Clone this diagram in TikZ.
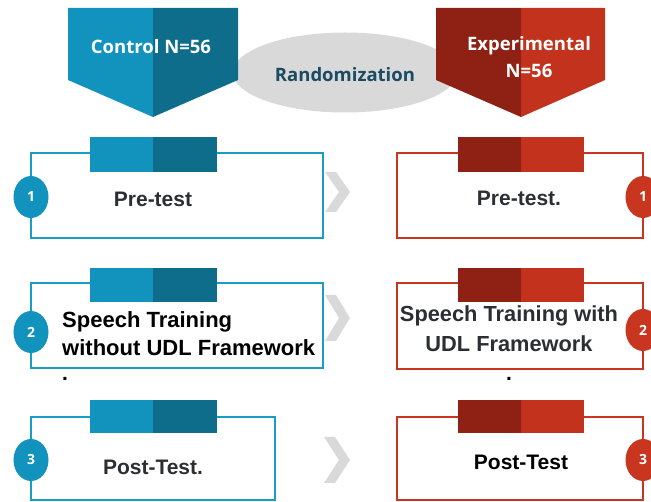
\documentclass[tikz,border=0pt]{standalone}
\usepackage{fontspec}
\setmainfont{Liberation Sans}
\newfontfamily\headfont{Open Sans}
\usetikzlibrary{shapes.geometric}
\definecolor{tealL}{HTML}{1193BE}
\definecolor{tealD}{HTML}{0E6D8B}
\definecolor{tealLine}{HTML}{1A9CC6}
\definecolor{redD}{HTML}{8E2113}
\definecolor{redL}{HTML}{C2321C}
\definecolor{redLine}{HTML}{C8361F}
\definecolor{chev}{HTML}{D9D9D9}
\definecolor{ellgray}{HTML}{D9D9D9}
\definecolor{randtxt}{HTML}{1B4A63}
\definecolor{boxtxt}{HTML}{2B2F33}
\tikzset{
  tealbox/.style={draw=tealLine, line width=2.8pt},
  redbox/.style={draw=redLine, line width=2.8pt},
  numcirc/.style={ellipse, minimum width=35pt, minimum height=42pt, inner sep=0pt, text=white, font=\headfont\bfseries\fontsize{14}{16}\selectfont},
  bodytxt/.style={font=\bfseries\fontsize{21}{27}\selectfont, inner sep=0pt},
  headtxt/.style={font=\headfont\bfseries\fontsize{18.5}{27}\selectfont, text=white, inner sep=0pt, align=center},
  chevshape/.style={fill=chev, draw=none}
}
\begin{document}
\begin{tikzpicture}[x=1pt,y=-1pt]
\useasboundingbox (0,0) rectangle (651,502);
% randomization ellipse
\fill[ellgray] (345,72.5) ellipse [x radius=112, y radius=40];
\node[font=\headfont\bfseries\fontsize{18.5}{22}\selectfont, text=randtxt, inner sep=0pt] (rand) at (345,75) {Randomization};
% control pentagon
\fill[tealL] (68,8) -- (153,8) -- (153,117) -- (68,80) -- cycle;
\fill[tealD] (153,8) -- (238,8) -- (238,80) -- (153,117) -- cycle;
\node[headtxt] (ctrl) at (151,47) {Control N=56};
% experimental pentagon
\fill[redD] (436,8) -- (521,8) -- (521,117) -- (436,80) -- cycle;
\fill[redL] (521,8) -- (605,8) -- (605,80) -- (521,117) -- cycle;
\node[headtxt] (expt) at (529,57) {Experimental\\N=56};

% ---------- Row 1 ----------
\draw[tealbox] (31,153) rectangle (323,238);
\fill[tealL] (90,137) rectangle (153,172);
\fill[tealD] (153,137) rectangle (217,172);
\node[numcirc, fill=tealL] (c1) at (31,197) {1};
\node[bodytxt, text=boxtxt] (t1) at (153,199) {Pre-test};

\draw[redbox] (397,153) rectangle (643,238);
\fill[redD] (458,137) rectangle (521,172);
\fill[redL] (521,137) rectangle (584,172);
\node[numcirc, fill=redLine] (e1) at (643,197) {1};
\node[bodytxt, text=boxtxt] (u1) at (519,198) {Pre-test.};

\fill[chevshape] (325,172) -- (336,172) -- (350,192) -- (336,212) -- (325,212) -- (339,192) -- cycle;

% ---------- Row 2 ----------
\draw[tealbox] (31,283) rectangle (323,368);
\fill[tealL] (90,268) rectangle (153,302);
\fill[tealD] (153,268) rectangle (217,302);
\node[numcirc, fill=tealL] (c2) at (31,332) {2};
\node[bodytxt, text=black, align=left, anchor=west, font=\bfseries\fontsize{22}{28}\selectfont] (t2) at (62,334) {Speech Training\\without UDL Framework};
\node[bodytxt, text=black] (d2) at (65,379) {.};

\draw[redbox] (397,283) rectangle (643,369);
\fill[redD] (458,268) rectangle (521,302);
\fill[redL] (521,268) rectangle (584,302);
\node[numcirc, fill=redLine] (e2) at (643,330) {2};
\node[bodytxt, text=boxtxt, align=center, font=\bfseries\fontsize{21.8}{30}\selectfont] (u2) at (509,329) {Speech Training with\\UDL Framework};
\node[bodytxt, text=black] (d2r) at (509,379) {.};

\fill[chevshape] (325,295) -- (336,295) -- (350,318) -- (336,341) -- (325,341) -- (339,318) -- cycle;

% ---------- Row 3 ----------
\draw[tealbox] (31,417) rectangle (275,500);
\fill[tealL] (90,400) rectangle (153,433);
\fill[tealD] (153,400) rectangle (217,433);
\node[numcirc, fill=tealL] (c3) at (31,460) {3};
\node[bodytxt, text=boxtxt] (t3) at (153,467) {Post-Test.};

\draw[redbox] (397,417) rectangle (643,500);
\fill[redD] (458,400) rectangle (521,433);
\fill[redL] (521,400) rectangle (584,433);
\node[numcirc, fill=redLine] (e3) at (643,460) {3};
\node[bodytxt, text=black] (u3) at (521,462) {Post-Test};

\fill[chevshape] (324,437) -- (335,437) -- (350,460) -- (335,483) -- (324,483) -- (339,460) -- cycle;
\end{tikzpicture}
\end{document}
